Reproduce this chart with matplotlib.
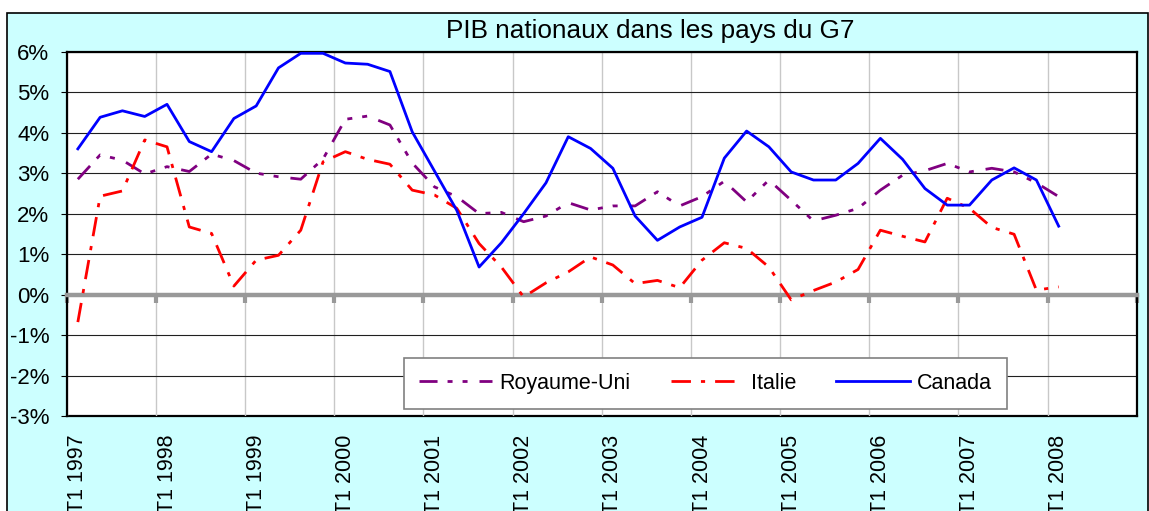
import matplotlib
matplotlib.use("Agg")
import matplotlib.pyplot as plt
from matplotlib.patches import Rectangle
from matplotlib.ticker import FuncFormatter

plt.rcParams['font.family'] = ['Liberation Sans', 'DejaVu Sans']

# quarterly growth (%), T1 1997 -> T1 2008 ; axis runs to T4 2008
n_quarters = 48
year_labels = ["T1 1997", "T1 1998", "T1 1999", "T1 2000", "T1 2001", "T1 2002",
               "T1 2003", "T1 2004", "T1 2005", "T1 2006", "T1 2007", "T1 2008"]

royaume_uni = [2.85, 3.45, 3.32, 2.98, 3.16, 3.04, 3.47, 3.31, 3.00, 2.91,
               2.85, 3.35, 4.33, 4.41, 4.19, 3.25, 2.66, 2.42, 2.00, 2.03,
               1.80, 1.94, 2.27, 2.09, 2.19, 2.19, 2.54, 2.19, 2.42, 2.80,
               2.29, 2.83, 2.33, 1.82, 1.96, 2.13, 2.58, 2.95, 3.06, 3.24,
               3.03, 3.12, 3.03, 2.76, 2.42]
italie = [-0.68, 2.43, 2.56, 3.82, 3.65, 1.67, 1.51, 0.21, 0.85, 0.97,
          1.59, 3.28, 3.53, 3.34, 3.22, 2.58, 2.46, 2.13, 1.26, 0.68,
          -0.06, 0.29, 0.56, 0.93, 0.73, 0.27, 0.35, 0.17, 0.85, 1.28,
          1.14, 0.68, -0.13, 0.10, 0.31, 0.62, 1.59, 1.44, 1.30, 2.38,
          2.13, 1.66, 1.49, 0.11, 0.19]
canada = [3.60, 4.38, 4.54, 4.40, 4.70, 3.78, 3.53, 4.35, 4.66, 5.60,
          5.96, 5.96, 5.72, 5.69, 5.51, 4.02, 3.05, 2.08, 0.68, 1.28,
          2.00, 2.76, 3.90, 3.61, 3.12, 1.94, 1.34, 1.67, 1.91, 3.37,
          4.04, 3.65, 3.03, 2.83, 2.83, 3.24, 3.86, 3.34, 2.62, 2.21,
          2.21, 2.83, 3.13, 2.83, 1.69]

W, H = 1149, 511
fig = plt.figure(figsize=(W / 100, H / 100), dpi=100)
fig.patch.set_facecolor('white')

# chart area (cyan, black border, cut off at the bottom)
bg = Rectangle((7.3 / W, -0.1), (1148.3 - 7.3) / W, 1.1 - 12.7 / H,
               transform=fig.transFigure, facecolor='#CCFFFF',
               edgecolor='black', lw=1.2, zorder=-1)
fig.add_artist(bg)

ax = fig.add_axes([66.7 / W, 1 - 416 / H, (1136.7 - 66.7) / W, (416 - 51.7) / H])
ax.set_facecolor('white')

x = list(range(len(canada)))
ax.plot(x, royaume_uni, color='#800080', lw=2,
        linestyle=(0, (6.5, 3.6, 1.8, 3.6, 1.8, 4.3)), label='Royaume-Uni', zorder=3)
ax.plot(x, italie, color='#FF0000', lw=2,
        linestyle=(0, (7, 3.6, 1.5, 3.6)), label='Italie', zorder=3)
ax.plot(x, canada, color='#0000FF', lw=2, label='Canada', zorder=3)

ax.set_xlim(-0.5, n_quarters - 0.5)
ax.set_ylim(-3, 6)
ax.set_yticks(range(-3, 7))
ax.yaxis.set_major_formatter(FuncFormatter(lambda v, _: f"{v:.0f}%"))
ax.set_xticks([b - 0.5 for b in range(0, n_quarters + 1, 4)])
ax.set_xticklabels([])

ax.grid(axis='x', color='#C8C8C8', lw=1)
ax.grid(axis='y', color='#202020', lw=0.8)
ax.set_axisbelow(True)

ax.spines['bottom'].set_position(('data', 0))
ax.spines['bottom'].set_color('#999999')
ax.spines['bottom'].set_linewidth(3.2)
for s in ['left', 'top', 'right']:
    ax.spines[s].set_color('black')
    ax.spines[s].set_linewidth(1.6)
ax.tick_params(axis='x', direction='out', length=6, width=3, color='#999999')
ax.tick_params(axis='y', direction='out', length=4.5, width=0.8, labelsize=16, pad=8)

# category labels along the bottom of the plot area
sec = ax.secondary_xaxis('bottom')
sec.set_xticks(list(range(0, len(year_labels) * 4, 4)), labels=year_labels, rotation=90)
sec.tick_params(length=0, pad=13.5, labelsize=15.5)
sec.spines['bottom'].set_color('black')
sec.spines['bottom'].set_linewidth(1.6)

leg = ax.legend(ncol=3, loc='center', bbox_to_anchor=(705.5 / W, 1 - 383.5 / H),
                bbox_transform=fig.transFigure, fontsize=15.5, handlelength=3.4,
                handletextpad=0.35, columnspacing=1.85, borderpad=0.7,
                fancybox=False, framealpha=1, edgecolor='#808080')
leg.get_frame().set_linewidth(1.2)

fig.text(650 / W, 1 - 31 / H, "PIB nationaux dans les pays du G7",
         ha='center', va='center', fontsize=18.8)

fig.savefig('out.png', dpi=100)
